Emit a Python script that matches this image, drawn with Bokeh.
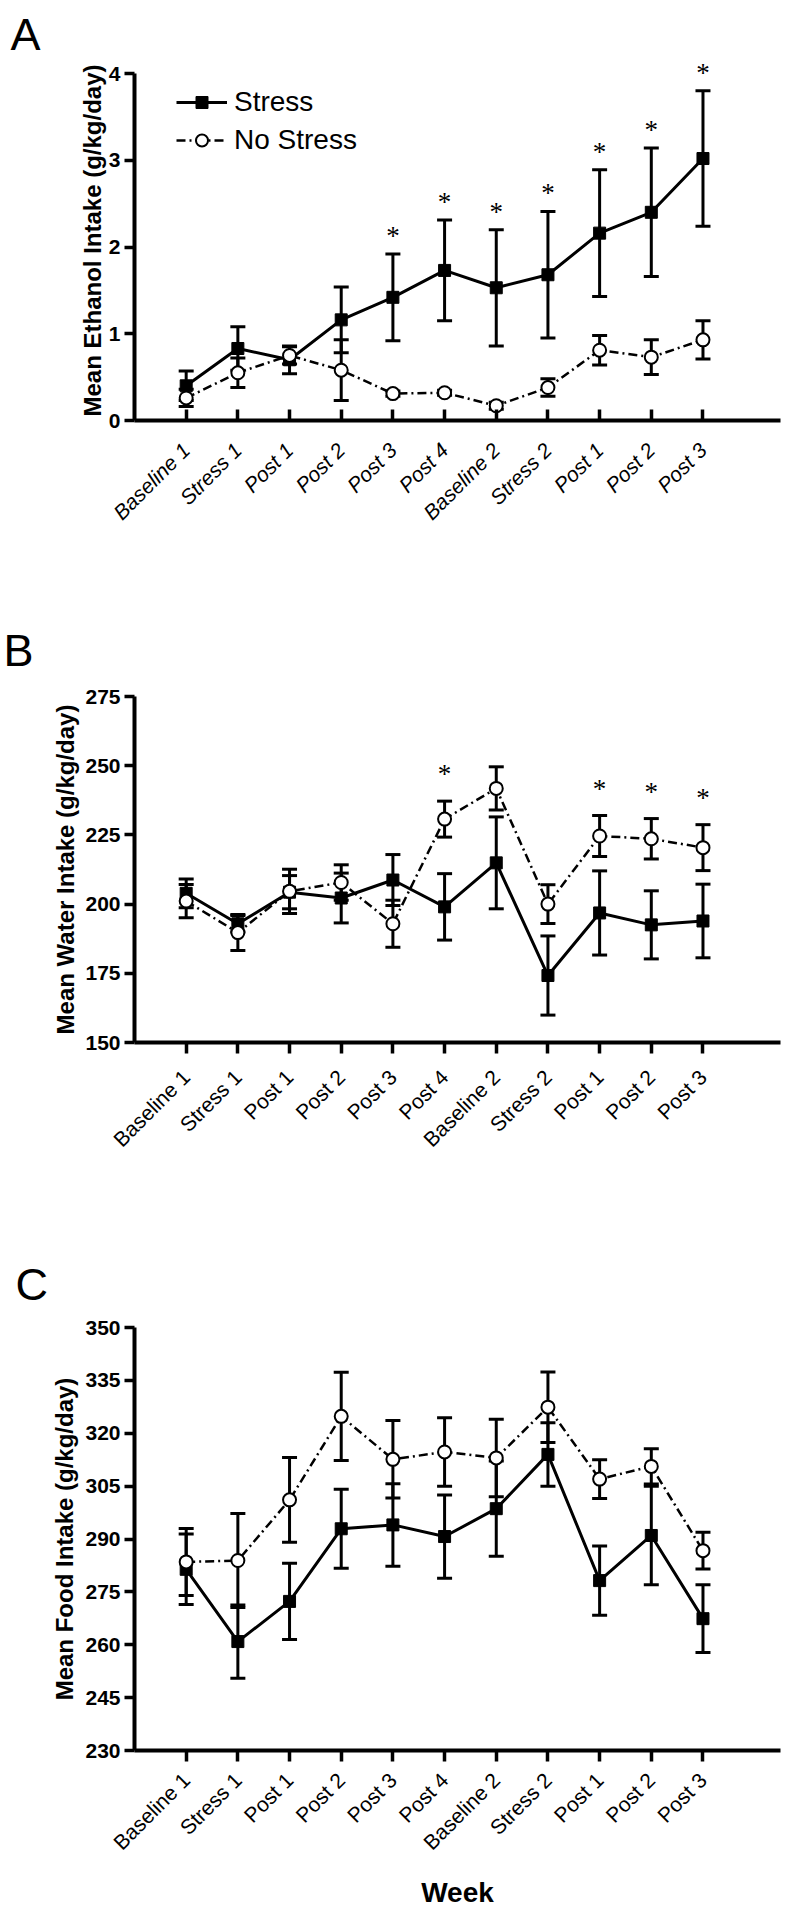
import math
from bokeh.plotting import figure
from bokeh.models import (Range1d, FixedTicker, Whisker, TeeHead, ColumnDataSource)
from bokeh.layouts import column
from bokeh.embed import file_html
from bokeh.resources import INLINE

# ---------------- data ----------------
weeks = ["Baseline 1", "Stress 1", "Post 1", "Post 2", "Post 3", "Post 4",
         "Baseline 2", "Stress 2", "Post 1", "Post 2", "Post 3"]

ethanol_stress = [0.40, 0.83, 0.70, 1.16, 1.42, 1.73, 1.53, 1.68, 2.16, 2.40, 3.02]
ethanol_stress_sem = [0.17, 0.25, 0.16, 0.38, 0.50, 0.58, 0.67, 0.73, 0.73, 0.74, 0.78]
ethanol_nostress = [0.26, 0.55, 0.75, 0.58, 0.31, 0.32, 0.17, 0.38, 0.81, 0.73, 0.93]
ethanol_nostress_sem = [0.10, 0.17, 0.10, 0.35, 0.03, 0.03, 0.04, 0.10, 0.17, 0.20, 0.22]
ethanol_sig = [4, 5, 6, 7, 8, 9, 10]

water_stress = [203.9, 192.9, 204.3, 202.2, 208.7, 199.0, 214.9, 174.2, 196.8, 192.5, 193.9]
water_stress_sem = [5.2, 3.0, 6.0, 9.0, 9.2, 12.0, 16.6, 14.3, 15.2, 12.3, 13.3]
water_nostress = [201.1, 189.7, 204.6, 207.8, 192.9, 230.7, 241.8, 200.0, 224.6, 223.6, 220.4]
water_nostress_sem = [6.0, 6.5, 8.0, 6.4, 8.5, 6.5, 7.8, 7.0, 7.4, 7.3, 8.3]
water_sig = [5, 8, 9, 10]

food_stress = [281.4, 260.9, 272.3, 292.9, 294.0, 290.7, 298.6, 314.0, 278.2, 291.0, 267.4]
food_stress_sem = [10.0, 10.4, 10.8, 11.2, 11.7, 11.8, 13.5, 9.0, 9.8, 14.0, 9.6]
food_nostress = [283.5, 283.9, 301.1, 324.8, 312.6, 314.7, 313.0, 327.4, 307.0, 310.6, 286.7]
food_nostress_sem = [9.5, 13.3, 12.0, 12.5, 11.0, 9.7, 11.0, 10.0, 5.5, 5.0, 5.2]

ethanol_ticks = [0, 1, 2, 3, 4]
water_ticks = [150, 175, 200, 225, 250, 275]
food_ticks = [230, 245, 260, 275, 290, 305, 320, 335, 350]

FONT = "Liberation Sans"
xs = list(range(len(weeks)))


def make_panel(height, yr, ybounds, yticks, border_top, border_bottom, tick_in, label_style,
               label_standoff, letter, letter_offset, letter_valign, letter_standoff,
               ytitle, ytitle_standoff):
    p = figure(width=784, height=height, x_range=Range1d(-1, 11.5), y_range=Range1d(*yr),
               output_backend="svg", toolbar_location=None,
               min_border_left=134, min_border_right=4,
               min_border_top=border_top, min_border_bottom=border_bottom)
    p.xgrid.visible = False
    p.ygrid.visible = False
    p.outline_line_color = None
    p.background_fill_color = "white"
    p.border_fill_color = "white"

    p.title.text = letter
    p.title.text_font = FONT
    p.title.text_font_size = "45px"
    p.title.text_font_style = "normal"
    p.title.text_color = "black"
    p.title.align = "left"
    p.title.vertical_align = letter_valign
    p.title.offset = letter_offset
    p.title.standoff = letter_standoff

    p.axis.axis_line_width = 4
    p.axis.axis_line_color = "black"
    p.axis.major_tick_line_width = 3.5
    p.axis.major_tick_line_color = "black"
    p.axis.minor_tick_line_color = None
    p.axis.major_label_text_color = "black"
    p.axis.major_label_text_font = FONT

    p.xaxis.ticker = FixedTicker(ticks=xs)
    p.xaxis.major_label_overrides = {i: w for i, w in enumerate(weeks)}
    p.xaxis.major_label_orientation = math.pi / 4
    p.xaxis.major_label_text_font_size = "21px"
    p.xaxis.major_label_text_font_style = label_style
    p.xaxis.major_label_standoff = label_standoff
    if tick_in:
        p.xaxis.major_tick_in = 11
        p.xaxis.major_tick_out = 0
    else:
        p.xaxis.major_tick_in = 0
        p.xaxis.major_tick_out = 11

    p.yaxis.ticker = FixedTicker(ticks=yticks)
    p.yaxis.bounds = ybounds
    p.yaxis.major_tick_in = 0
    p.yaxis.major_tick_out = 10
    p.yaxis.major_label_text_font_size = "21px"
    p.yaxis.major_label_text_font_style = "bold"
    p.yaxis.major_label_standoff = 4
    p.yaxis.axis_label = ytitle
    p.yaxis.axis_label_text_font = FONT
    p.yaxis.axis_label_text_font_size = "24px"
    p.yaxis.axis_label_text_font_style = "bold"
    p.yaxis.axis_label_text_color = "black"
    p.yaxis.axis_label_standoff = ytitle_standoff
    return p


def add_series(p, means, sems, stress, legend):
    lo = [m - s for m, s in zip(means, sems)]
    hi = [m + s for m, s in zip(means, sems)]
    src = ColumnDataSource(dict(x=xs, m=means, lo=lo, hi=hi))
    w = Whisker(base="x", upper="hi", lower="lo", source=src, dimension="height",
                line_width=3, line_color="black",
                upper_head=TeeHead(size=15, line_width=3, line_color="black"),
                lower_head=TeeHead(size=15, line_width=3, line_color="black"))
    p.add_layout(w)
    kw = {"legend_label": "Stress" if stress else "No Stress"} if legend else {}
    if stress:
        p.line("x", "m", source=src, line_width=3, line_color="black", **kw)
        p.scatter("x", "m", source=src, marker="square", size=12,
                  fill_color="black", line_color="black", **kw)
    else:
        p.line("x", "m", source=src, line_width=2.5, line_color="black",
               line_dash="9 4 2 4", **kw)
        p.scatter("x", "m", source=src, marker="circle", size=13,
                  fill_color="white", line_color="black", line_width=2, **kw)


def add_stars(p, idx, tops, y_off):
    p.text(x=[xs[i] for i in idx], y=[tops[i] for i in idx], text=["*"] * len(idx),
           text_align="center", text_baseline="alphabetic", y_offset=y_off,
           text_font_size="27px", text_color="black", text_font=FONT)


# ---------------- Panel A ----------------
pa = make_panel(560, (0, 4.15), (0, 4), ethanol_ticks, 60, 140, True, "italic", 26,
                "A", -124, "bottom", 2, "Mean Ethanol Intake (g/kg/day)", 0)
add_series(pa, ethanol_stress, ethanol_stress_sem, True, True)
add_series(pa, ethanol_nostress, ethanol_nostress_sem, False, True)
add_stars(pa, ethanol_sig, [m + s for m, s in zip(ethanol_stress, ethanol_stress_sem)], -18)
lg = pa.legend[0]
lg.location = (42, 261)
lg.label_text_font = FONT
lg.label_text_font_size = "28px"
lg.label_text_color = "black"
lg.border_line_color = None
lg.background_fill_alpha = 0
lg.glyph_width = 51
lg.glyph_height = 30
lg.label_height = 38
lg.label_standoff = 7
lg.spacing = 0
lg.padding = 0
lg.margin = 0

# ---------------- Panel B ----------------
pb = make_panel(640, (150, 275), (150, 275), water_ticks, 136, 158, False, "normal", 20,
                "B", -131, "top", 37, "Mean Water Intake (g/kg/day)", 3)
add_series(pb, water_stress, water_stress_sem, True, False)
add_series(pb, water_nostress, water_nostress_sem, False, False)
add_stars(pb, water_sig, [m + s for m, s in zip(water_nostress, water_nostress_sem)], -27)

# ---------------- Panel C ----------------
pc = make_panel(711, (230, 350), (230, 350), food_ticks, 127, 154, False, "normal", 15,
                "C", -119, "top", 31, "Mean Food Intake (g/kg/day)", 4)
add_series(pc, food_stress, food_stress_sem, True, False)
add_series(pc, food_nostress, food_nostress_sem, False, False)
pc.xaxis.axis_label = "Week"
pc.xaxis.axis_label_text_font = FONT
pc.xaxis.axis_label_text_font_size = "28px"
pc.xaxis.axis_label_text_font_style = "bold"
pc.xaxis.axis_label_text_color = "black"
pc.xaxis.axis_label_standoff = 12

layout = column(pa, pb, pc, spacing=0)
open("out.html", "w").write(file_html(layout, INLINE))
